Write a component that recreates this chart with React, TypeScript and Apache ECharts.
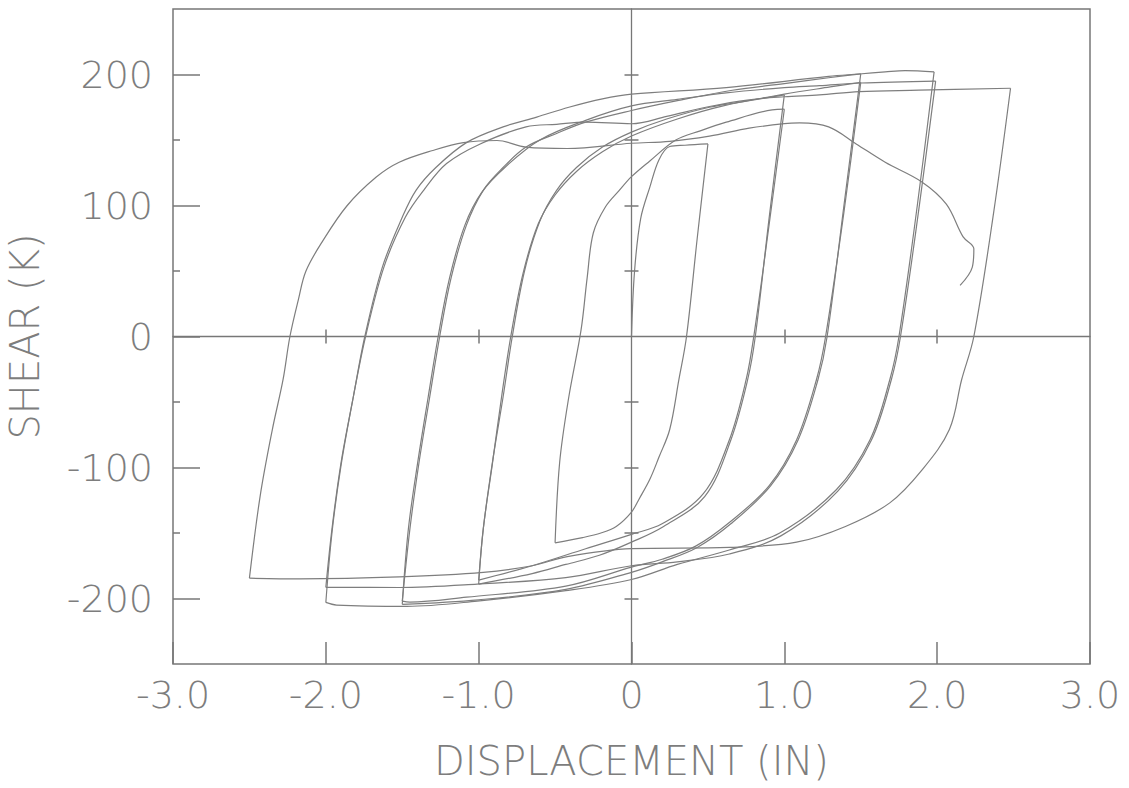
import React, { useEffect, useRef } from 'react';
import * as echarts from 'echarts';

// ---- tick values / labels ----
const X_TICKS = [-3, -2, -1, 0, 1, 2, 3];
const X_TICK_LABELS = ['-3.0', '-2.0', '-1.0', '0', '1.0', '2.0', '3.0'];
const Y_TICKS = [-200, -100, 0, 100, 200];
const Y_TICK_LABELS = ['-200', '-100', '0', '100', '200'];
const Y_MINOR_TICKS = [-150, -50, 50, 150];
const ZERO_LINE_Y_TICKS = [-200, -150, -100, -50, 50, 100, 150, 200];
const ZERO_LINE_X_TICKS = [-2, -1, 1, 2];

const X_NAME = 'DISPLACEMENT (IN)';
const Y_NAME = 'SHEAR (K)';

// ---- load history: [displacement (in), shear (k)] for each half cycle ----
const H1_INITIAL = [[0, 0], [0.02, 50], [0.06, 90], [0.12, 114], [0.18, 135], [0.25, 145], [0.35, 146], [0.5, 147]];
const H2_DROP_05 = [[0.5, 147], [0.43, 75], [0.36, 0], [0.31, -33], [0.25, -71], [0.18, -92], [0.12, -109], [0.05, -124], [0, -134], [-0.1, -145], [-0.2, -150], [-0.32, -153.5], [-0.5, -157.5]];
const H3_RELOAD_05 = [[-0.5, -157.5], [-0.47, -96], [-0.41, -46], [-0.33, 5], [-0.29, 45], [-0.25, 79], [-0.17, 99], [-0.08, 111.5], [0, 122], [0.12, 134], [0.29, 150], [0.45, 157], [0.62, 163.6], [0.92, 173], [1.0, 173.5]];
const H4_DROP_10A = [[1.0, 173.5], [0.9, 85], [0.8, 0], [0.75, -33], [0.64, -79], [0.47, -120], [0.2, -143], [0, -151], [-0.3, -162], [-0.65, -175], [-1.0, -186]];
const H5_RELOAD_10A = [[-1.0, -186], [-0.97, -147], [-0.91, -96], [-0.84, -46], [-0.78, 0], [-0.7, 50], [-0.6, 88], [-0.49, 111.6], [-0.36, 129], [-0.19, 144.6], [0, 156], [0.23, 166], [0.51, 175], [0.77, 180], [1.0, 184.5]];
const H6_DROP_10B = [[1.0, 184.5], [0.9, 90], [0.81, 0], [0.76, -33], [0.65, -79], [0.48, -122], [0.21, -145], [0, -157], [-0.21, -167], [-0.43, -174], [-0.65, -181], [-1.0, -189]];
const H7_RELOAD_10B = [[-1.0, -189], [-0.97, -147], [-0.91, -97], [-0.85, -46], [-0.79, 0], [-0.71, 48], [-0.61, 86], [-0.5, 108], [-0.36, 126], [-0.19, 141], [0, 153], [0.3, 166], [0.6, 176], [1.0, 185], [1.3, 190.5], [1.5, 194]];
const H8_DROP_15A = [[1.5, 194], [1.39, 95], [1.27, 0], [1.21, -33], [1.08, -79], [0.9, -114], [0.64, -142], [0.42, -160], [0.2, -170], [0, -176], [-0.43, -190.5], [-1.08, -199], [-1.45, -202.7], [-1.5, -202]];
const H9_RELOAD_15A = [[-1.5, -202], [-1.45, -147], [-1.39, -96], [-1.32, -46], [-1.255, 0], [-1.18, 45], [-1.08, 85], [-0.97, 111.6], [-0.84, 129], [-0.69, 144.6], [-0.49, 155], [-0.3, 163.6], [0, 172.5], [0.3, 180], [0.66, 188], [1.0, 193], [1.29, 197.5], [1.5, 200.5]];
const H10_DROP_15B = [[1.5, 200.5], [1.39, 100], [1.28, 0], [1.22, -33], [1.09, -79], [0.91, -114], [0.65, -143], [0.43, -161], [0.2, -172], [0, -180], [-0.43, -193], [-1.0, -201], [-1.5, -204.5]];
const H11_RELOAD_15B = [[-1.5, -204.5], [-1.46, -147], [-1.4, -97], [-1.33, -46], [-1.265, 0], [-1.19, 45], [-1.09, 85], [-0.98, 110], [-0.82, 130], [-0.6, 150], [-0.3, 165], [0, 176], [0.3, 181], [0.62, 186], [1.0, 190], [1.23, 191.5], [1.5, 193.5], [1.99, 195]];
const H12_DROP_20A = [[1.99, 195], [1.88, 97], [1.76, 0], [1.7, -33], [1.57, -79], [1.35, -118], [0.98, -152], [0.64, -166], [0.3, -172], [0, -175], [-0.43, -184], [-1.01, -189], [-1.52, -191.6], [-2.0, -191.5]];
const H13_RELOAD_20A = [[-2.0, -191.5], [-1.96, -147], [-1.9, -96], [-1.82, -46], [-1.745, 0], [-1.63, 53], [-1.5, 91], [-1.41, 111.6], [-1.28, 129], [-1.08, 148], [-0.84, 160], [-0.62, 167.5], [-0.41, 175], [-0.19, 181.4], [0, 185], [0.62, 190], [1.29, 198.6], [1.49, 200.4], [1.66, 202], [1.79, 203], [1.98, 202]];
const H14_DROP_20B = [[1.98, 202], [1.87, 100], [1.75, 0], [1.69, -33], [1.56, -79], [1.34, -117], [0.97, -150], [0.64, -163], [0.3, -174], [0, -185.5], [-0.43, -194], [-1.01, -202], [-1.47, -206], [-1.93, -205], [-2.0, -203]];
const H15_RELOAD_20B = [[-2.0, -203], [-1.96, -150], [-1.9, -98], [-1.82, -46], [-1.74, 0], [-1.62, 53], [-1.48, 91], [-1.36, 111.6], [-1.21, 132], [-0.99, 147], [-0.69, 160], [-0.49, 162], [-0.3, 163.6], [0, 162.4], [0.23, 168], [0.51, 175.6], [0.77, 180.7], [1.0, 183], [1.23, 184.5], [1.49, 187], [1.88, 188], [2.48, 189.5]];
const H16_DROP_25 = [[2.48, 189.5], [2.37, 95], [2.24, 0], [2.16, -33], [2.08, -71], [1.9, -102], [1.69, -127], [1.4, -145], [1.08, -157], [0.64, -161], [0, -162], [-0.42, -168], [-0.65, -175], [-0.97, -180], [-1.52, -183.5], [-2.17, -185], [-2.5, -184.5]];
const H17_FINAL = [[-2.5, -184.5], [-2.43, -122], [-2.35, -71], [-2.28, -33], [-2.235, 0], [-2.18, 28], [-2.13, 50], [-2.02, 73], [-1.86, 100], [-1.67, 121.7], [-1.52, 133], [-1.3, 142], [-1.1, 148], [-0.88, 149.6], [-0.69, 144.6], [-0.42, 143.5], [0, 147.5], [0.25, 149], [0.51, 153], [0.77, 159], [1.0, 162.5], [1.1, 163], [1.29, 160], [1.47, 147], [1.66, 133], [1.9, 118], [2.06, 101], [2.17, 76], [2.24, 67], [2.23, 53], [2.15, 39]];

const HALF_CYCLES = [
  H1_INITIAL, H2_DROP_05, H3_RELOAD_05, H4_DROP_10A, H5_RELOAD_10A, H6_DROP_10B,
  H7_RELOAD_10B, H8_DROP_15A, H9_RELOAD_15A, H10_DROP_15B, H11_RELOAD_15B,
  H12_DROP_20A, H13_RELOAD_20A, H14_DROP_20B, H15_RELOAD_20B, H16_DROP_25, H17_FINAL,
];

const INK = '#7e7e7e';
const FRAME = '#777777';
const TEXT = '#7d7d7d';
const FONT = "'DejaVu Sans', sans-serif";

export default function App() {
  const ref = useRef<HTMLDivElement>(null);
  useEffect(() => {
    document.body.style.margin = '0';
    const chart = echarts.init(ref.current!, undefined, { renderer: 'svg' });
    const tickStyle = { color: FRAME, width: 1.5 };
    const baseX = { type: 'value', min: -3, max: 3, position: 'bottom', splitLine: { show: false } };
    const baseY = { type: 'value', min: -250, max: 250, position: 'left', splitLine: { show: false } };
    const option: any = {
      animation: false,
      backgroundColor: '#ffffff',
      grid: {
        left: 173, right: 39, top: 9, bottom: 124,
        show: true, borderColor: FRAME, borderWidth: 1.5, backgroundColor: 'transparent',
        outerBoundsMode: 'none',
      },
      xAxis: [
        {
          ...baseX,
          axisLine: { show: false, onZero: false },
          axisTick: { show: true, inside: true, length: 22, customValues: X_TICKS, lineStyle: tickStyle },
          axisLabel: {
            customValues: X_TICKS,
            formatter: (v: number) => X_TICK_LABELS[X_TICKS.indexOf(v)] ?? '',
            color: TEXT, fontSize: 38, fontFamily: FONT, fontWeight: 200, margin: 12,
          },
          name: X_NAME, nameLocation: 'middle', nameGap: 77,
          nameTextStyle: { color: TEXT, fontSize: 40, fontFamily: FONT, fontWeight: 200 },
        },
        {
          ...baseX,
          axisLine: { show: true, onZero: true, onZeroAxisIndex: 0, lineStyle: { color: FRAME, width: 1.3 } },
          axisTick: { show: true, inside: true, length: 7, customValues: ZERO_LINE_X_TICKS, lineStyle: tickStyle },
          axisLabel: { show: false },
        },
        {
          ...baseX,
          axisLine: { show: false, onZero: true, onZeroAxisIndex: 0 },
          axisTick: { show: true, inside: false, length: 7, customValues: ZERO_LINE_X_TICKS, lineStyle: tickStyle },
          axisLabel: { show: false },
        },
      ],
      yAxis: [
        {
          ...baseY,
          axisLine: { show: false, onZero: false },
          axisTick: { show: true, inside: true, length: 27, customValues: Y_TICKS, lineStyle: tickStyle },
          axisLabel: {
            customValues: Y_TICKS,
            formatter: (v: number) => Y_TICK_LABELS[Y_TICKS.indexOf(v)] ?? '',
            color: TEXT, fontSize: 38, fontFamily: FONT, fontWeight: 200, margin: 20,
          },
          name: Y_NAME, nameLocation: 'middle', nameGap: 128,
          nameTextStyle: { color: TEXT, fontSize: 40, fontFamily: FONT, fontWeight: 200 },
        },
        {
          ...baseY,
          axisLine: { show: false, onZero: false },
          axisTick: { show: true, inside: true, length: 7, customValues: Y_MINOR_TICKS, lineStyle: tickStyle },
          axisLabel: { show: false },
        },
        {
          ...baseY,
          axisLine: { show: true, onZero: true, onZeroAxisIndex: 0, lineStyle: { color: FRAME, width: 1.3 } },
          axisTick: { show: true, inside: true, length: 7, customValues: ZERO_LINE_Y_TICKS, lineStyle: tickStyle },
          axisLabel: { show: false },
        },
        {
          ...baseY,
          axisLine: { show: false, onZero: true, onZeroAxisIndex: 0 },
          axisTick: { show: true, inside: false, length: 7, customValues: ZERO_LINE_Y_TICKS, lineStyle: tickStyle },
          axisLabel: { show: false },
        },
      ],
      series: HALF_CYCLES.map((d, i) => ({
        name: 'half-cycle ' + (i + 1),
        type: 'line',
        xAxisIndex: 0,
        yAxisIndex: 0,
        data: d,
        showSymbol: false,
        symbol: 'none',
        smooth: 0.35,
        lineStyle: { color: INK, width: 1.2 },
        silent: true,
      })),
    };
    chart.setOption(option);
    return () => chart.dispose();
  }, []);
  return <div ref={ref} style={{ width: 1129, height: 788 }} />;
}
